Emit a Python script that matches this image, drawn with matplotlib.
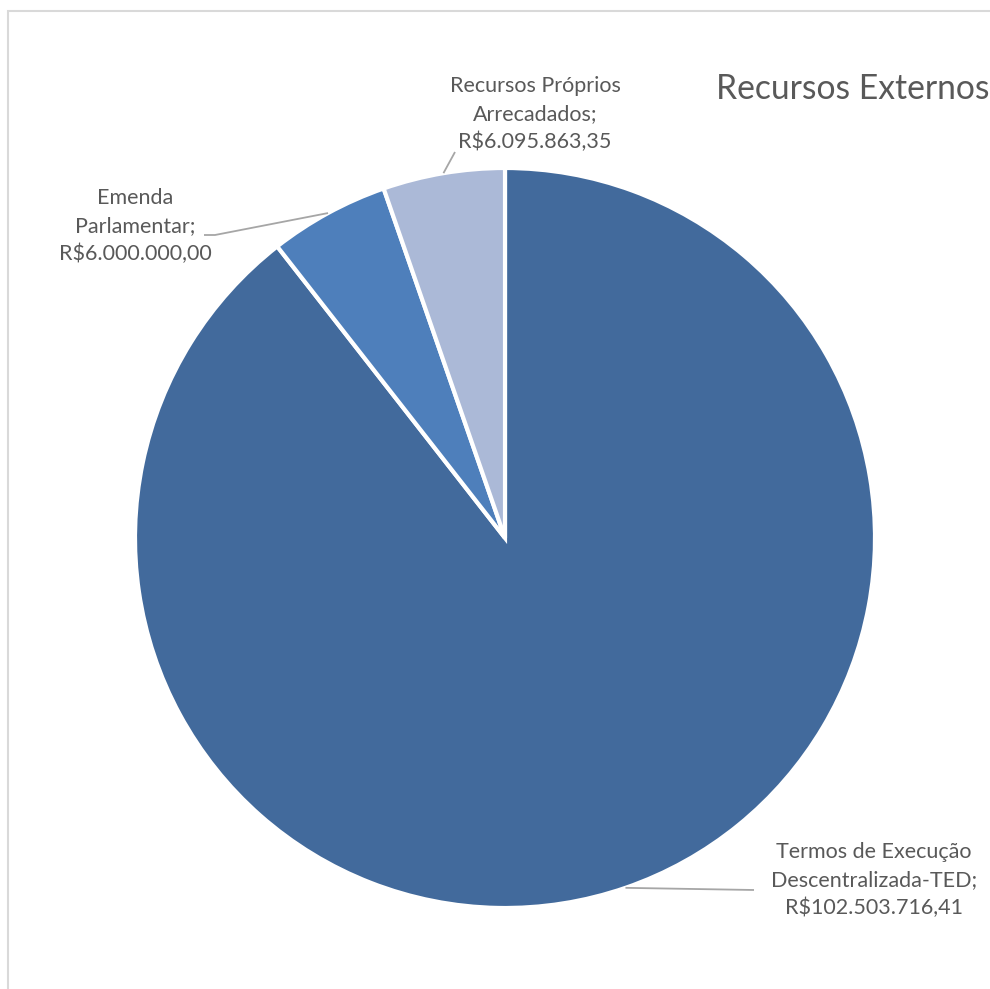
import numpy as np
import matplotlib
matplotlib.use('Agg')
import matplotlib.pyplot as plt
from matplotlib.patches import Rectangle

# data (R$)
labels = ['Termos de Execução\nDescentralizada-TED', 'Emenda\nParlamentar', 'Recursos Próprios\nArrecadados']
values = [102503716.41, 6000000.00, 6095863.35]
value_text = ['R$102.503.716,41', 'R$6.000.000,00', 'R$6.095.863,35']
colors = ['#426a9c', '#4e7fbb', '#abb9d7']

W, H = 990, 989
fig = plt.figure(figsize=(W/100, H/100), dpi=100)
ax = fig.add_axes([0, 0, 1, 1])
ax.set_xlim(0, W)
ax.set_ylim(0, H)
ax.axis('off')

plt.rcParams['font.family'] = ['Lato', 'DejaVu Sans']
txtcol = '#595959'

# chart area border
ax.add_patch(Rectangle((7.5, -5), W, H - 10 + 5 - 0.5, fill=False, ec='#d9d9d9', lw=1.5))

cx, cy, r = 505, H - 538, 370
wedges, _ = ax.pie(values, colors=colors, startangle=90, counterclock=False,
                   center=(cx, cy), radius=r, frame=True,
                   wedgeprops=dict(edgecolor='white', linewidth=3))
ax.set_xlim(0, W)
ax.set_ylim(0, H)
ax.set_aspect('equal')
ax.axis('off')

# label positions (centre of text block, pixel coords from top) and leader elbows
lab_pos = [(874, 880), (135, 226), (535, 114)]
elbow = [(754, 890), (215, 235), (455, 152)]
ends = [(754, 890), (204, 235), (455, 152)]

for w, lab, val, (lx, ly), (ex, ey), (fx, fy) in zip(wedges, labels, value_text, lab_pos, elbow, ends):
    th = np.deg2rad((w.theta1 + w.theta2) / 2)
    px, py = cx + r * np.cos(th), cy + r * np.sin(th)
    ax.plot([px, ex, fx], [py, H - ey, H - fy], color='#a6a6a6', lw=1.3, solid_capstyle='butt')
    ax.text(lx, H - ly, lab + ';\n' + val, ha='center', va='center', fontsize=15.5,
            color=txtcol, linespacing=1.47)

ax.text(716, H - 89, 'Recursos Externos', ha='left', va='center', fontsize=24.2, color=txtcol)

fig.savefig('out.png', dpi=100)
